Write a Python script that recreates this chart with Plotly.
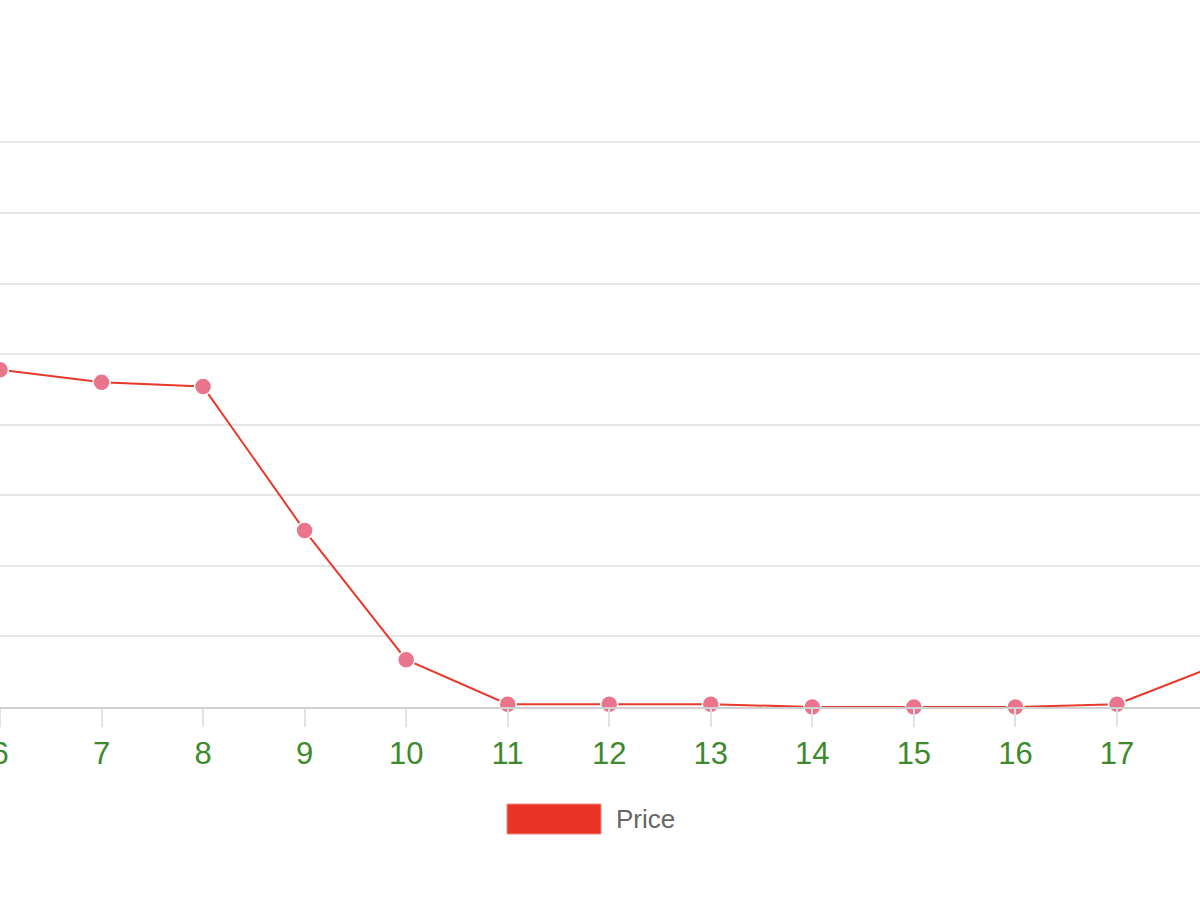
import plotly.graph_objects as go

hours = [6, 7, 8, 9, 10, 11, 12, 13, 14, 15, 16, 17, 18]
price = [4.78, 4.60, 4.54, 2.50, 0.67, 0.04, 0.04, 0.04, 0.0, 0.0, 0.0, 0.04, 0.60]
tick_vals = [6, 7, 8, 9, 10, 11, 12, 13, 14, 15, 16, 17, 18]
tick_text = [str(v) for v in tick_vals]
series_name = "Price"

fig = go.Figure()
fig.add_trace(go.Scatter(
    x=hours, y=price, mode="lines+markers", name=series_name,
    line=dict(color="rgb(232,57,42)", width=2),
    marker=dict(size=17, color="rgb(234,116,139)", line=dict(color="white", width=1.5)),
    cliponaxis=False, showlegend=False,
))

T, B = 141, 193
H = 900 - T - B

fig.update_layout(
    width=1200, height=900,
    margin=dict(l=0, r=0, t=T, b=B, pad=0),
    paper_bgcolor="white", plot_bgcolor="white",
    font=dict(family="Liberation Sans, Arial, sans-serif"),
    xaxis=dict(
        range=[6, 17.818], tickvals=tick_vals, ticktext=tick_text,
        automargin=False, ticklabeloverflow="allow",
        showgrid=False, zeroline=False,
        showline=True, linecolor="#d0d0d0", linewidth=2,
        ticks="outside", ticklen=18, tickcolor="#e2e2e2", tickwidth=2,
        tickfont=dict(size=31, color="rgb(61,138,45)"),
    ),
    yaxis=dict(
        range=[0, 8.02], dtick=1, showticklabels=False, automargin=False,
        showgrid=True, gridcolor="#e6e6e6", gridwidth=2,
        zeroline=False, showline=False,
    ),
)

def py(pix):
    return (900 - B - pix) / H

# legend drawn manually as a box swatch + label
fig.add_shape(type="rect", xref="paper", yref="paper",
              x0=507/1200, x1=601/1200, y0=py(834), y1=py(804),
              fillcolor="rgb(233,51,37)", line=dict(color="rgb(240,140,130)", width=1))
fig.add_annotation(xref="paper", yref="paper", x=614/1200, y=py(819),
                   text=series_name, showarrow=False, xanchor="left", yanchor="middle",
                   font=dict(size=26, color="#666666"))

fig.write_html("out.html", config={"displayModeBar": False},
               post_script="document.body.style.margin='0px';document.body.style.overflow='hidden';")
